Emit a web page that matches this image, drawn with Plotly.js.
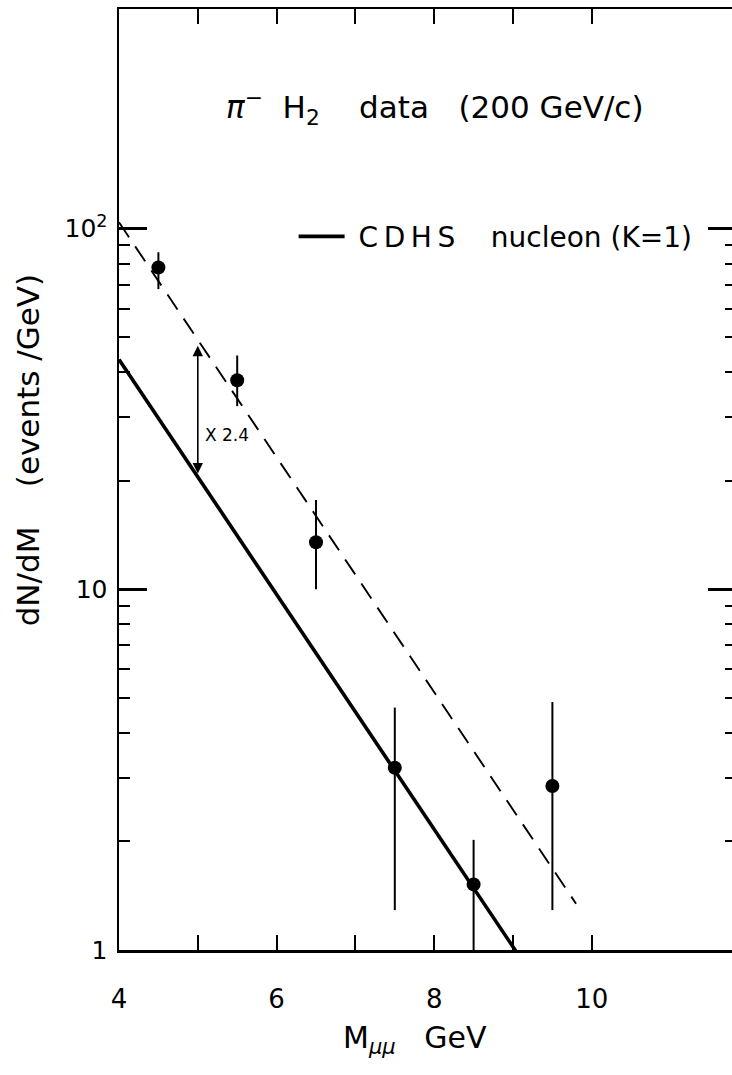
<!DOCTYPE html>
<html>
<head>
<meta charset="utf-8">
<script src="https://cdn.plot.ly/plotly-3.0.1.min.js"></script>
<style>
  html, body { margin: 0; padding: 0; background: #fff; overflow: hidden; }
  #chart { width: 742px; height: 1075px; }
</style>
</head>
<body>
<div id="chart"></div>
<script>
// pi- H2 dimuon data, 200 GeV/c
const mass = [4.5, 5.5, 6.5, 7.5, 8.5, 9.5];
const dNdM = [78, 38, 13.5, 3.2, 1.52, 2.85];
const errUpper = [86, 44.5, 17.7, 4.7, 2.02, 4.87];
const errLower = [68, 32.2, 10, 1.29, 1.0, 1.29];

// CDHS nucleon prediction (K=1), straight line on the log scale
const cdhsMass = [4, 9.8];
const cdhsValue = [43.4, 0.56];
const scaleFactor = 2.4;
const arrowMass = 5;

// axis ticks
const xMajorVals = [4, 6, 8, 10];
const xMinorVals = [5, 7, 9];
const yMajorVals = [1, 10, 100];
const yMajorText = ['1', '10', '10<sup>2</sup>'];
const yMinorVals = [2, 3, 4, 5, 6, 7, 8, 9, 20, 30, 40, 50, 60, 70, 80, 90];

const FONT = 'DejaVu Sans, Liberation Sans, sans-serif';
const nb = n => '\u00A0'.repeat(n);

const scaled = cdhsValue.map(v => v * scaleFactor);
const plus = dNdM.map((v, i) => errUpper[i] - v);
const minus = dNdM.map((v, i) => v - errLower[i]);

// log-linear value of the CDHS line at a given mass
function cdhsLogAt(m) {
  const l0 = Math.log10(cdhsValue[0]), l1 = Math.log10(cdhsValue[1]);
  return l0 + (l1 - l0) * (m - cdhsMass[0]) / (cdhsMass[1] - cdhsMass[0]);
}
const arrowLow = cdhsLogAt(arrowMass);
const arrowHigh = arrowLow + Math.log10(scaleFactor);

const yRange = [0, 2.609];

const traces = [
  {
    x: cdhsMass, y: scaled, type: 'scatter', mode: 'lines',
    line: { color: '#000', width: 1.9, dash: '18px,11px' },
    showlegend: false, hoverinfo: 'skip'
  },
  {
    x: cdhsMass, y: cdhsValue, type: 'scatter', mode: 'lines',
    line: { color: '#000', width: 3.6 },
    name: nb(1) + 'C\u2009D\u2009H\u2009S' + nb(4) + 'nucleon (K=1)',
    showlegend: true
  },
  {
    x: mass, y: dNdM, type: 'scatter', mode: 'markers',
    marker: { color: '#000', size: 14, symbol: 'circle' },
    error_y: { type: 'data', symmetric: false, array: plus, arrayminus: minus,
               color: '#000', thickness: 2, width: 0 },
    showlegend: false
  }
];

const layout = {
  width: 742, height: 1075,
  margin: { l: 119, r: 6, t: 9, b: 125 },
  paper_bgcolor: '#fff', plot_bgcolor: '#fff',
  font: { family: FONT, color: '#000' },
  showlegend: true,
  legend: {
    x: 0.283, y: 0.758, xanchor: 'left', yanchor: 'middle',
    bgcolor: 'rgba(0,0,0,0)', borderwidth: 0,
    font: { family: FONT, size: 28, color: '#000' },
    itemwidth: 46
  },
  xaxis: {
    type: 'linear', range: [4, 11.83],
    tickmode: 'array', tickvals: xMajorVals,
    ticks: 'inside', ticklen: 15, tickwidth: 2, tickcolor: '#000',
    minor: { tickmode: 'array', tickvals: xMinorVals, ticks: 'inside', ticklen: 15, tickwidth: 2, tickcolor: '#000', showgrid: false },
    showline: true, linewidth: 2.5, linecolor: '#000', mirror: 'ticks',
    showgrid: false, zeroline: false,
    tickfont: { family: FONT, size: 26 },
    ticklabelstandoff: 24
  },
  yaxis: {
    type: 'log', range: yRange,
    tickmode: 'array', tickvals: yMajorVals, ticktext: yMajorText,
    ticks: 'inside', ticklen: 28, tickwidth: 2.5, tickcolor: '#000',
    minor: { tickmode: 'array', tickvals: yMinorVals, ticks: 'inside', ticklen: 11, tickwidth: 2, tickcolor: '#000', showgrid: false },
    showline: true, linewidth: 2.5, linecolor: '#000', mirror: 'ticks',
    showgrid: false, zeroline: false,
    tickfont: { family: FONT, size: 25 },
    ticklabelstandoff: 4
  },
  annotations: [
    {
      xref: 'paper', yref: 'paper', x: -0.1475, y: 0.531, xanchor: 'center', yanchor: 'middle',
      textangle: -90, showarrow: false,
      text: 'dN/dM' + nb(4) + '(events /GeV)',
      font: { family: FONT, size: 31, color: '#000' }
    },
    {
      xref: 'paper', yref: 'paper', x: 0.4797, y: -0.0956, xanchor: 'center', yanchor: 'middle',
      showarrow: false,
      text: 'M<sub><i>μμ</i></sub>' + nb(3) + 'GeV',
      font: { family: FONT, size: 30, color: '#000' }
    },
    {
      xref: 'paper', yref: 'paper', x: 0.17, y: 0.895, xanchor: 'left', yanchor: 'middle',
      showarrow: false,
      text: '<i>π</i><sup>−</sup>' + nb(2) + 'H<sub>2</sub>' + nb(4) + 'data' + nb(3) + '(200 GeV/c)',
      font: { family: FONT, size: 31, color: '#000' }
    },
    {
      xref: 'x', yref: 'y', x: arrowMass, y: arrowHigh,
      axref: 'x', ayref: 'y', ax: arrowMass, ay: arrowLow,
      showarrow: true, text: '', arrowside: 'end+start',
      arrowhead: 2, startarrowhead: 2, arrowsize: 1.3, startarrowsize: 1.3,
      arrowwidth: 1.6, arrowcolor: '#000', standoff: 6, startstandoff: 2
    },
    {
      xref: 'x', yref: 'y', x: arrowMass + 0.06, y: (arrowLow + arrowHigh) / 2 - 0.075,
      xanchor: 'left', yanchor: 'middle', showarrow: false,
      text: 'X 2.4', font: { family: FONT, size: 17, color: '#000' }
    }
  ]
};

Plotly.newPlot('chart', traces, layout, { staticPlot: true });
</script>
</body>
</html>
